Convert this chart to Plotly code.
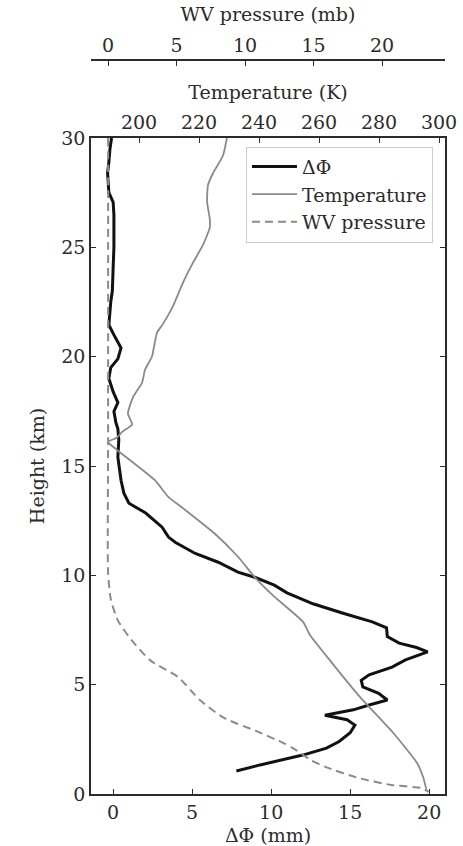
import plotly.graph_objects as go

# ---- data ----
dphi_height = [30.0, 29.5, 28.9, 28.4, 27.5, 27.07, 26.5, 25.9, 25.0, 24.05, 23.0, 22.5, 21.45, 21.0,
               20.4, 19.9, 19.5, 19.0, 18.4, 17.9, 17.5, 17.0, 16.7, 16.2, 15.4, 14.35, 13.76, 13.3,
               12.85, 12.2, 11.75, 11.5, 11.0, 10.6, 10.15, 9.9, 9.55, 9.2, 8.7, 8.28, 7.87, 7.6,
               7.2, 6.9, 6.7, 6.5, 6.13, 5.8, 5.45, 5.2, 4.9, 4.6, 4.3, 4.07, 3.85, 3.6, 3.4, 3.15,
               2.8, 2.4, 2.1, 1.78, 1.55, 1.33, 1.05]
dphi_mm = [-0.1, -0.2, -0.27, -0.35, -0.27, 0.0, 0.05, 0.05, 0.05, 0.0, -0.05, -0.15, -0.27, 0.05,
           0.5, 0.3, -0.15, -0.27, 0.0, 0.3, 0.05, 0.17, 0.3, 0.36, 0.3, 0.5, 0.68, 1.0,
           2.06, 3.1, 3.5, 3.95, 5.2, 6.65, 7.9, 9.0, 10.2, 11.0, 12.65, 14.5, 16.4, 17.3,
           17.35, 18.1, 19.2, 19.9, 18.5, 17.65, 16.2, 15.7, 15.8, 16.8, 17.35, 16.2, 15.2, 13.4, 14.8, 15.3,
           15.0, 14.3, 13.5, 12.0, 10.55, 9.3, 7.8]

temp_height = [30.0, 29.2, 28.4, 27.85, 27.07, 26.3, 25.9, 25.1, 24.3, 23.4, 22.3, 21.5, 21.1, 20.0,
               19.4, 18.8, 18.15, 17.4, 16.9, 16.55, 16.3, 16.1, 15.7, 14.35, 13.6, 13.0, 11.9, 10.85,
               9.9, 9.0, 7.87, 7.27, 6.1, 4.43, 2.8, 1.42, 0.78, 0.2]
temp_k = [229.3, 228.0, 224.7, 223.0, 222.7, 223.6, 223.6, 221.3, 218.0, 214.7, 211.3, 208.0, 206.0, 204.3,
          202.0, 201.0, 198.0, 196.3, 197.7, 194.3, 192.7, 189.7, 193.0, 205.3, 209.7, 215.3, 225.3, 233.0,
          238.7, 245.3, 254.7, 257.0, 263.7, 273.7, 284.7, 292.7, 294.7, 295.8]

wv_height = [30.0, 27.5, 16.2, 10.1, 8.9, 7.95, 7.05, 6.1, 5.35, 4.3, 3.5, 2.83, 2.33, 2.1, 1.55,
             1.23, 0.73, 0.41, 0.27, 0.1]
wv_mb = [0.0, 0.0, 0.0, 0.0, 0.2, 0.7, 1.7, 3.1, 5.1, 6.7, 8.4, 11.0, 12.8, 13.5, 14.8,
         15.9, 18.3, 20.7, 22.9, 23.4]

dphi_ticks = [0, 5, 10, 15, 20]
temp_ticks = [200, 220, 240, 260, 280, 300]
wv_ticks = [0, 5, 10, 15, 20]
height_ticks = [0, 5, 10, 15, 20, 25, 30]

FONT = "DejaVu Serif"
TXT = "#2b2b2b"
FS = 19
GRAY = "#8a8a8a"

fig = go.Figure()
fig.add_trace(go.Scatter(x=wv_mb, y=wv_height, xaxis="x3", yaxis="y", mode="lines",
                         name="WV pressure", legendrank=3, legendgroup="c",
                         line=dict(color=GRAY, width=2, dash="8px,5px", shape="spline", smoothing=0.6)))
fig.add_trace(go.Scatter(x=temp_k, y=temp_height, xaxis="x2", yaxis="y", mode="lines",
                         name="Temperature", legendrank=2, legendgroup="b",
                         line=dict(color=GRAY, width=1.8, shape="spline", smoothing=0.5)))
fig.add_trace(go.Scatter(x=dphi_mm, y=dphi_height, xaxis="x", yaxis="y", mode="lines",
                         name="ΔΦ", legendrank=1, legendgroup="a",
                         line=dict(color="#111111", width=3)))

common = dict(showgrid=False, zeroline=False, showline=True, linecolor=TXT, linewidth=1.5,
              ticks="inside", ticklen=5, tickwidth=1.2, tickcolor=TXT,
              tickfont=dict(family=FONT, size=FS, color=TXT), automargin=False)

fig.update_layout(
    width=463, height=846,
    margin=dict(l=91, r=18, t=60, b=52),
    paper_bgcolor="white", plot_bgcolor="white",
    font=dict(family=FONT, size=FS, color=TXT),
    xaxis=dict(range=[-1.4, 21.0], tickvals=dphi_ticks, mirror=True,
               title=dict(text="ΔΦ (mm)", font=dict(family=FONT, size=FS, color=TXT), standoff=12),
               **common),
    yaxis=dict(range=[0, 30], domain=[0, 0.8937], tickvals=height_ticks, mirror="ticks",
               title=dict(text="Height (km)", font=dict(family=FONT, size=FS, color=TXT), standoff=12),
               **common),
    xaxis2=dict(range=[184, 302], tickvals=temp_ticks, overlaying="x", side="top", anchor="y",
                title=dict(text="Temperature (K)", font=dict(family=FONT, size=FS, color=TXT), standoff=6),
                **common),
    xaxis3=dict(range=[-1.25, 24.6], tickvals=wv_ticks, overlaying="x", side="top",
                anchor="free", position=1,
                title=dict(text="WV pressure (mb)", font=dict(family=FONT, size=FS, color=TXT), standoff=6),
                **common),
    legend=dict(x=0.966, xanchor="right", y=0.882, yanchor="top",
                bgcolor="white", bordercolor="#cccccc", borderwidth=1,
                font=dict(family=FONT, size=FS, color=TXT), tracegroupgap=0, itemwidth=45),
    showlegend=True,
)

fig.write_html("out.html")
